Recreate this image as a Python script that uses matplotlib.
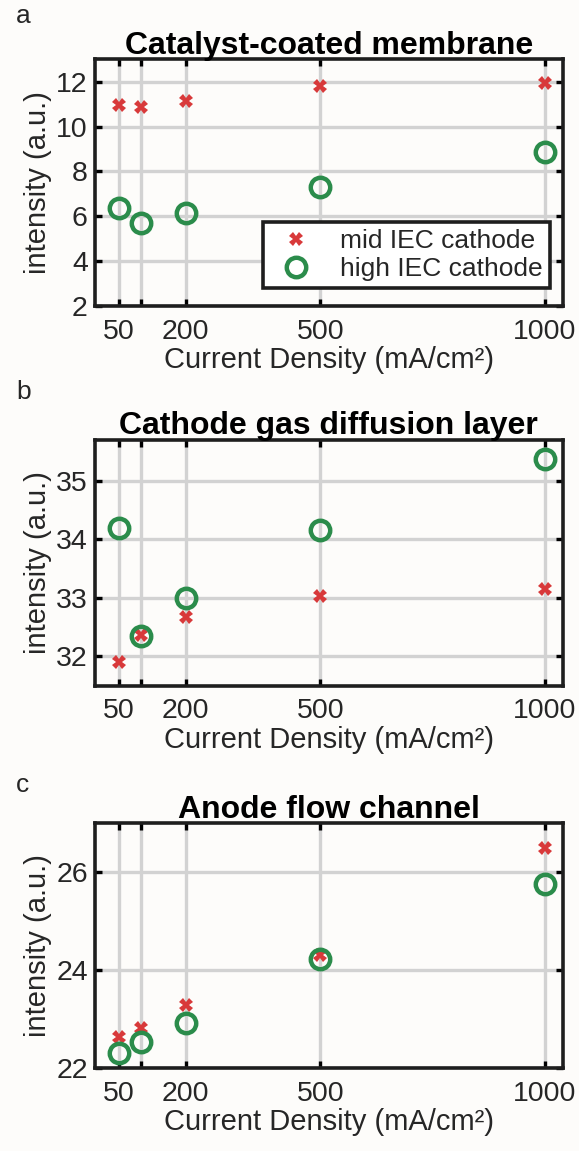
import matplotlib.pyplot as plt

plt.rcParams['font.family'] = ['Liberation Sans', 'DejaVu Sans']

# current densities (mA/cm2)
current = [50, 100, 200, 500, 1000]
xtick_labels = ['50', '', '200', '500', '1000']

titles = ['Catalyst-coated membrane', 'Cathode gas diffusion layer', 'Anode flow channel']
letters = ['a', 'b', 'c']

# intensities (a.u.)
mid_ccm = [10.96, 10.87, 11.13, 11.80, 11.94]
high_ccm = [6.36, 5.72, 6.13, 7.30, 8.87]
mid_gdl = [31.91, 32.36, 32.67, 33.03, 33.16]
high_gdl = [34.20, 32.35, 33.00, 34.16, 35.37]
mid_afc = [22.63, 22.83, 23.30, 24.32, 26.50]
high_afc = [22.31, 22.54, 22.92, 24.24, 25.77]

mid_all = [mid_ccm, mid_gdl, mid_afc]
high_all = [high_ccm, high_gdl, high_afc]

ylims = [(2, 13), (31.5, 35.7), (22, 27)]
yticks = [[2, 4, 6, 8, 10, 12], [32, 33, 34, 35], [22, 24, 26]]

red = '#d8393a'
green = '#2b8c4b'
txt = '#262626'

fig = plt.figure(figsize=(5.79, 11.51), dpi=100, facecolor='#fdfcfa')

boxes = [[0.1636, 0.7341, 0.8084, 0.2144],
         [0.1636, 0.4043, 0.8084, 0.2134],
         [0.1636, 0.0719, 0.8084, 0.2128]]
letter_y = [0.986, 0.659, 0.318]

for i in range(3):
    ax = fig.add_axes(boxes[i])
    ax.set_facecolor('#fdfcfa')
    ax.set_xlim(-3, 1040)
    ax.set_ylim(*ylims[i])
    ax.set_xticks(current)
    ax.set_xticklabels(xtick_labels)
    ax.set_yticks(yticks[i])
    ax.grid(True, color='#d2d2d2', linewidth=2.4, zorder=0)
    ax.set_axisbelow(True)
    ax.tick_params(direction='in', length=5, width=2.4, top=True, right=True,
                   labelsize=20.5, labelcolor=txt)
    ax.tick_params(axis='x', pad=9)
    ax.tick_params(axis='y', pad=5)
    for s in ax.spines.values():
        s.set_linewidth(2.6)
        s.set_color('#1e1e1e')
    ax.plot(current, mid_all[i], linestyle='none', marker='X', markersize=10,
            color=red, markeredgewidth=0, label='mid IEC cathode', zorder=3)
    ax.plot(current, high_all[i], linestyle='none', marker='o', markersize=14,
            markerfacecolor='none', markeredgecolor=green, markeredgewidth=3.2,
            label='high IEC cathode', zorder=3)
    ax.set_title(titles[i], fontsize=23, fontweight='bold', color='black', pad=4)
    ax.set_xlabel('Current Density (mA/cm²)', fontsize=21, color=txt, labelpad=1)
    ax.set_ylabel('intensity (a.u.)', fontsize=21, color=txt, labelpad=3)
    fig.text(0.028, letter_y[i], letters[i], fontsize=19, color=txt, va='center')
    if i == 0:
        leg = ax.legend(loc='lower right', bbox_to_anchor=(0.972, 0.075), fontsize=19,
                        frameon=True, fancybox=False, framealpha=1,
                        borderpad=0.25, handletextpad=0.7, labelspacing=0.15,
                        borderaxespad=0)
        leg.get_frame().set_edgecolor('#1e1e1e')
        leg.get_frame().set_linewidth(2.6)
        for t in leg.get_texts():
            t.set_color(txt)

fig.savefig('out.png', dpi=100, facecolor=fig.get_facecolor())
